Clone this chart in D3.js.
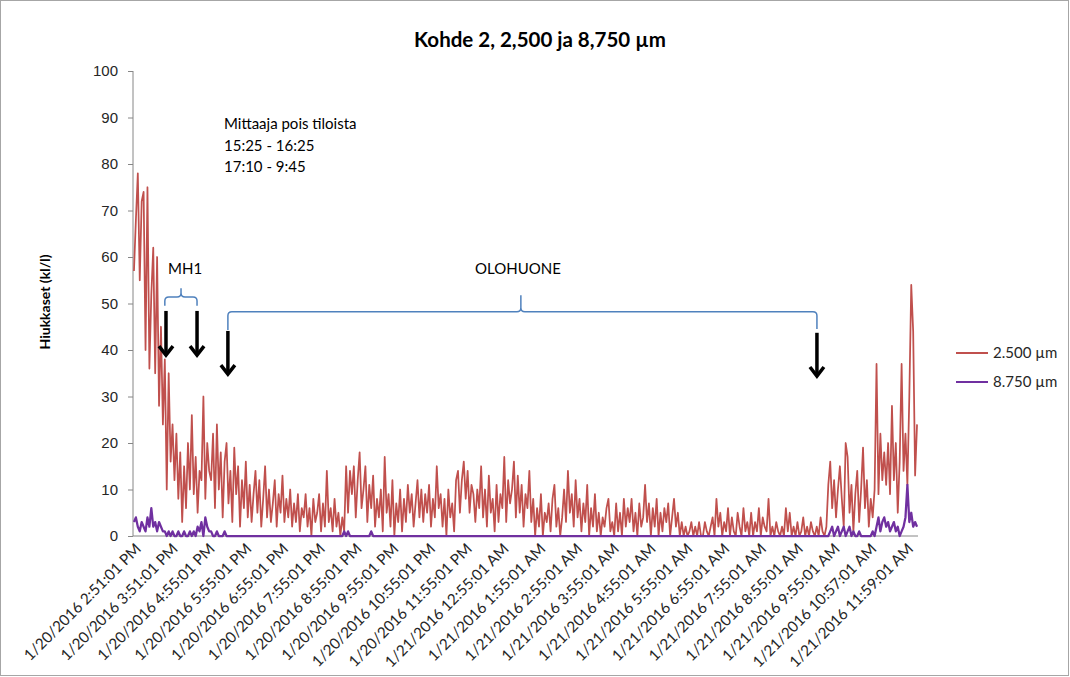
<!DOCTYPE html>
<html>
<head>
<meta charset="UTF-8">
<title>Kohde 2</title>
<script src="https://d3js.org/d3.v7.min.js"></script>
<style>
  body { margin: 0; background: #fff; }
  svg { display: block; font-family: Lato, "Open Sans", sans-serif; }
  .axis text { fill: #262626; font-size: 15px; }
  .axis path, .axis line { stroke: #868686; }
  .xlab text { fill: #262626; font-size: 15.2px; }
</style>
</head>
<body>
<script>
// category labels (one every 60 one-minute categories)
var timeLabels = [
  "1/20/2016 2:51:01 PM", "1/20/2016 3:51:01 PM", "1/20/2016 4:55:01 PM", "1/20/2016 5:55:01 PM",
  "1/20/2016 6:55:01 PM", "1/20/2016 7:55:01 PM", "1/20/2016 8:55:01 PM", "1/20/2016 9:55:01 PM",
  "1/20/2016 10:55:01 PM", "1/20/2016 11:55:01 PM", "1/21/2016 12:55:01 AM", "1/21/2016 1:55:01 AM",
  "1/21/2016 2:55:01 AM", "1/21/2016 3:55:01 AM", "1/21/2016 4:55:01 AM", "1/21/2016 5:55:01 AM",
  "1/21/2016 6:55:01 AM", "1/21/2016 7:55:01 AM", "1/21/2016 8:55:01 AM", "1/21/2016 9:55:01 AM",
  "1/21/2016 10:57:01 AM", "1/21/2016 11:59:01 AM"
];
var minuteCount = 1281;
var labelEvery = 60;

// 2.500 µm (about one value every 3 minutes)
var small = [
  57, 68, 78, 55, 72, 74, 40, 75, 36, 52,  62, 35, 60, 28, 45, 24, 38, 10, 35, 16,
  24, 12, 22, 8, 18, 3, 15, 6, 20, 10,  26, 9, 17, 5, 14, 12, 30, 8, 20, 14,
  12, 22, 6, 24, 10, 18, 4, 16, 20, 7,  14, 3, 19, 9, 15, 2, 12, 6, 16, 4,
  11, 3, 9, 14, 5, 12, 2, 8, 15, 4,  10, 3, 7, 12, 2, 9, 5, 13, 3, 8,
  4, 10, 2, 7, 3, 9, 1, 6, 4, 9,  2, 6, 0, 8, 3, 5, 9, 1, 7, 2,
  14, 3, 6, 1, 8, 2, 5, 0, 4, 1,  15, 5, 14, 9, 15, 4, 12, 18, 6, 10,
  15, 3, 11, 6, 13, 2, 8, 4, 10, 1,  17, 5, 9, 2, 12, 0, 7, 3, 10, 1,
  8, 3, 11, 5, 9, 2, 7, 12, 4, 10,  3, 9, 5, 11, 2, 8, 4, 15, 6, 9,
  2, 8, 0, 10, 4, 7, 1, 12, 14, 5,  12, 16, 8, 14, 5, 11, 9, 3, 10, 6,
  15, 4, 10, 2, 13, 5, 8, 1, 11, 3,  9, 6, 17, 3, 12, 7, 10, 16, 4, 13,
  5, 11, 2, 9, 6, 14, 3, 8, 0, 6,  2, 9, 0, 5, 3, 7, 1, 8, 11, 2,
  6, 0, 4, 10, 3, 14, 5, 9, 2, 12,  4, 8, 1, 7, 3, 11, 0, 6, 2, 9,
  1, 5, 0, 4, 2, 6, 8, 1, 3, 0,  7, 1, 5, 0, 8, 2, 6, 3, 8, 1,
  5, 0, 7, 2, 4, 11, 3, 7, 0, 6,  2, 8, 0, 5, 1, 6, 3, 7, 0, 4,
  8, 2, 5, 0, 3, 0, 2, 0, 1, 3,  0, 2, 0, 3, 0, 0, 3, 1, 0, 2,
  4, 0, 8, 2, 5, 0, 3, 1, 6, 0,  4, 1, 0, 5, 2, 0, 6, 1, 3, 0,
  5, 0, 3, 1, 6, 0, 4, 2, 1, 8,  0, 2, 0, 3, 1, 0, 2, 0, 6, 1,
  5, 0, 2, 0, 3, 0, 1, 4, 0, 2,  0, 3, 1, 0, 2, 0, 4, 1, 0, 2,
  11, 16, 6, 12, 4, 10, 15, 8, 2, 20,  17, 5, 11, 1, 9, 14, 3, 10, 19, 6,
  12, 2, 8, 4, 10, 37, 9, 22, 12, 18,  11, 20, 9, 28, 12, 20, 5, 16, 37, 14,
  22, 11, 30, 54, 44, 13, 24
];

// 8.750 µm
var large = [
  3, 4, 2, 1, 3, 2, 1, 4, 2, 6,  2, 3, 1, 3, 2, 1, 1, 0, 1, 0,
  1, 0, 0, 1, 0, 0, 1, 0, 0, 1,  0, 1, 0, 2, 1, 3, 0, 4, 2, 1,
  1, 0, 0, 1, 0, 0, 0, 1, 0, 0,  0, 0, 0, 0, 0, 0, 0, 0, 0, 0,
  0, 0, 0, 0, 0, 0, 0, 0, 0, 0,  0, 0, 0, 0, 0, 0, 0, 0, 0, 0,
  0, 0, 0, 0, 0, 0, 0, 0, 0, 0,  0, 0, 0, 0, 0, 0, 0, 0, 0, 0,
  0, 0, 0, 0, 0, 0, 0, 0, 0, 1,  0, 1, 0, 0, 0, 0, 0, 0, 0, 0,
  0, 0, 0, 1, 0, 0, 0, 0, 0, 0,  0, 0, 0, 0, 0, 0, 0, 0, 0, 0,
  0, 0, 0, 0, 0, 0, 0, 0, 0, 0,  0, 0, 0, 0, 0, 0, 0, 0, 0, 0,
  0, 0, 0, 0, 0, 0, 0, 0, 0, 0,  0, 0, 0, 0, 0, 0, 0, 0, 0, 0,
  0, 0, 0, 0, 0, 0, 0, 0, 0, 0,  0, 0, 0, 0, 0, 0, 0, 0, 0, 0,
  0, 0, 0, 0, 0, 0, 0, 0, 0, 0,  0, 0, 0, 0, 0, 0, 0, 0, 0, 0,
  0, 0, 0, 0, 0, 0, 0, 0, 0, 0,  0, 0, 0, 0, 0, 0, 0, 0, 0, 0,
  0, 0, 0, 0, 0, 0, 0, 0, 0, 0,  0, 0, 0, 0, 0, 0, 0, 0, 0, 0,
  0, 0, 0, 0, 0, 0, 0, 0, 0, 0,  0, 0, 0, 0, 0, 0, 0, 0, 0, 0,
  0, 0, 0, 0, 0, 0, 0, 0, 0, 0,  0, 0, 0, 0, 0, 0, 0, 0, 0, 0,
  0, 0, 0, 0, 0, 0, 0, 0, 0, 0,  0, 0, 0, 0, 0, 0, 0, 0, 0, 0,
  0, 0, 0, 0, 0, 0, 0, 0, 0, 0,  0, 0, 0, 0, 0, 0, 0, 0, 0, 0,
  0, 0, 0, 0, 0, 0, 0, 0, 0, 0,  0, 0, 0, 0, 0, 0, 0, 0, 0, 0,
  0, 1, 2, 0, 1, 2, 0, 1, 2, 0,  1, 2, 0, 1, 0, 0, 1, 0, 0, 0,
  0, 0, 0, 1, 0, 2, 4, 1, 3, 4,  2, 3, 1, 2, 3, 1, 2, 0, 1, 2,
  4, 11, 3, 5, 2, 3, 2
];

var seriesNames = ["2.500 µm", "8.750 µm"];
var seriesColors = ["#C0504D", "#7030A0"];
var yTicks = [0, 10, 20, 30, 40, 50, 60, 70, 80, 90, 100];
var notes = ["Mittaaja pois tiloista", "15:25 - 16:25", "17:10 - 9:45"];

var W = 1070, H = 677;
var svg = d3.select("body").append("svg").attr("width", W).attr("height", H);

svg.append("rect").attr("x", 0.5).attr("y", 0.5).attr("width", W - 2).attr("height", H - 2)
  .attr("fill", "#fff").attr("stroke", "#a6a6a6");

var x = d3.scaleLinear().domain([0, minuteCount]).range([133, 918]);
var y = d3.scaleLinear().domain([0, 100]).range([536, 71]);
var step = minuteCount / small.length;
function sx(i) { return x((i + 0.5) * step); }

// title
svg.append("text").attr("x", 540).attr("y", 47).attr("text-anchor", "middle")
  .style("font-size", "20.5px").style("font-weight", "bold").attr("fill", "#000")
  .text("Kohde 2, 2,500 ja 8,750 µm");

// y axis
var yAxis = svg.append("g").attr("class", "axis").attr("transform", "translate(133,0)")
  .call(d3.axisLeft(y).tickValues(yTicks).tickSize(5).tickPadding(10));
yAxis.select(".domain").attr("d", "M0," + y(100) + "V" + y(0));

svg.append("text").attr("transform", "translate(50,302) rotate(-90)").attr("text-anchor", "middle")
  .style("font-size", "14px").style("font-weight", "bold").attr("fill", "#000")
  .text("Hiukkaset (kl/l)");

// x axis
svg.append("line").attr("x1", 133).attr("x2", 918).attr("y1", y(0)).attr("y2", y(0))
  .attr("stroke", "#868686");
svg.append("g").attr("class", "xlab").selectAll("text").data(timeLabels).enter().append("text")
  .attr("transform", function(d, k) { return "translate(" + (x(k * labelEvery + 0.5) + 5) + ",546) rotate(-45)"; })
  .attr("text-anchor", "end").attr("dy", "0.35em")
  .text(function(d) { return d; });

// series
var line = d3.line().x(function(d, i) { return sx(i); }).y(function(d) { return y(d); });
svg.append("path").datum(small).attr("d", line).attr("fill", "none")
  .attr("stroke", seriesColors[0]).attr("stroke-width", 1.75).attr("stroke-linejoin", "round");
svg.append("path").datum(large).attr("d", line).attr("fill", "none")
  .attr("stroke", seriesColors[1]).attr("stroke-width", 2.25).attr("stroke-linejoin", "round");

// legend
seriesNames.forEach(function(name, k) {
  var ly = 353 + k * 29;
  svg.append("line").attr("x1", 956).attr("x2", 988).attr("y1", ly).attr("y2", ly)
    .attr("stroke", seriesColors[k]).attr("stroke-width", 2);
  svg.append("text").attr("x", 993).attr("y", ly).attr("dy", "0.35em")
    .style("font-size", "15px").attr("fill", "#262626").text(name);
});

// notes
svg.append("g").selectAll("text").data(notes).enter().append("text")
  .attr("x", 224).attr("y", function(d, k) { return 129 + k * 21.5; })
  .style("font-size", "15px").attr("fill", "#000").text(function(d) { return d; });

svg.append("text").attr("x", 168).attr("y", 274).style("font-size", "15px").text("MH1");
svg.append("text").attr("x", 475).attr("y", 274).style("font-size", "15px").text("OLOHUONE");

// braces
function brace(x1, x2, xm, yh, yEnd1, yEnd2, yTip) {
  var r = 4;
  return "M" + x1 + "," + yEnd1 + "L" + x1 + "," + (yh + r) + "Q" + x1 + "," + yh + " " + (x1 + r) + "," + yh +
    "L" + (xm - r) + "," + yh + "Q" + xm + "," + yh + " " + xm + "," + (yh - r) + "L" + xm + "," + yTip +
    "M" + xm + "," + (yh - r) + "Q" + xm + "," + yh + " " + (xm + r) + "," + yh +
    "L" + (x2 - r) + "," + yh + "Q" + x2 + "," + yh + " " + x2 + "," + (yh + r) + "L" + x2 + "," + yEnd2;
}
svg.append("path").attr("d", brace(sx(16), sx(32.7), sx(24.4), y(51.4), y(49.5), y(49.5), y(53.3)))
  .attr("fill", "none").attr("stroke", "#4F81BD").attr("stroke-width", 1.5);
svg.append("path").attr("d", brace(sx(48.7), sx(354.1), sx(200.6), y(48.2), y(44.3), y(44.5), y(51.8)))
  .attr("fill", "none").attr("stroke", "#4F81BD").attr("stroke-width", 1.5);

// arrows
var arrows = [[16.6, 48.4, 38.9], [32.7, 48.4, 38.9], [48.7, 44.1, 34.8], [354.1, 43.7, 34.4]];
arrows.forEach(function(a) {
  var ax = sx(a[0]), top = y(a[1]), bot = y(a[2]);
  svg.append("line").attr("x1", ax).attr("x2", ax).attr("y1", top).attr("y2", bot - 2)
    .attr("stroke", "#000").attr("stroke-width", 3.5);
  svg.append("path").attr("d", "M" + (ax - 7) + "," + (bot - 9) + "L" + ax + "," + bot + "L" + (ax + 7) + "," + (bot - 9))
    .attr("fill", "none").attr("stroke", "#000").attr("stroke-width", 3.5);
});
</script>
</body>
</html>
